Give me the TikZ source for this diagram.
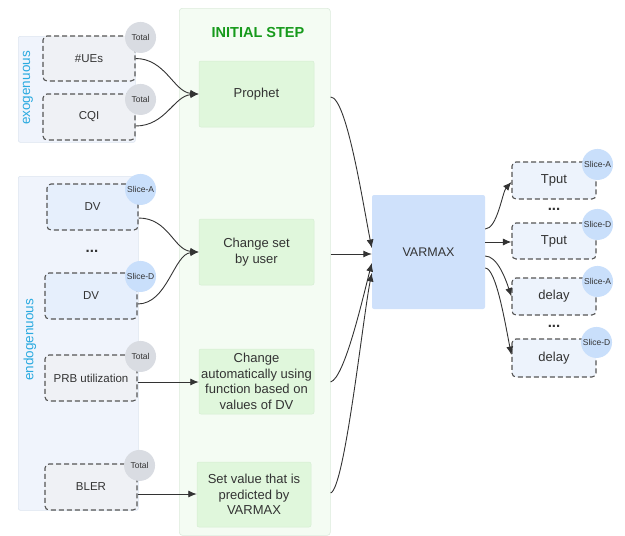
\documentclass[tikz,border=0pt]{standalone}
\usepackage{fontspec}
\setmainfont{Liberation Sans}
\usetikzlibrary{calc,arrows.meta}
\definecolor{txt}{HTML}{333333}
\definecolor{grpfill}{HTML}{F0F4FC}
\definecolor{grpline}{HTML}{DDE5F0}
\definecolor{grayfill}{HTML}{EFF1F5}
\definecolor{bluefill}{HTML}{E6EFFC}
\definecolor{outfill}{HTML}{EDF3FC}
\definecolor{totalc}{HTML}{D9DCE2}
\definecolor{slicec}{HTML}{C9DFFB}
\definecolor{initfill}{HTML}{F4FCF3}
\definecolor{initline}{HTML}{DCEBDC}
\definecolor{greenbox}{HTML}{E0F7DC}
\definecolor{greenline}{HTML}{D6EDD3}
\definecolor{varmax}{HTML}{CFE1FB}
\definecolor{titlegreen}{HTML}{169A1B}
\definecolor{cyanlbl}{HTML}{2AAAE0}
\definecolor{dashc}{HTML}{555555}
\definecolor{arrowc}{HTML}{333333}
\tikzset{
  grp/.style={draw=grpline, fill=grpfill, rounded corners=2pt, line width=0.6pt},
  var/.style={draw=dashc, dash pattern=on 5pt off 3pt, line width=1.1pt, rounded corners=4pt,
              text=txt, font=\fontsize{11.5}{13}\selectfont, align=center, inner sep=0pt},
  gvar/.style={var, fill=grayfill},
  bvar/.style={var, fill=bluefill},
  ovar/.style={var, fill=outfill, font=\fontsize{13}{15}\selectfont},
  badge/.style={circle, minimum size=31pt, inner sep=0pt, text=txt, font=\fontsize{8.5}{10}\selectfont},
  tot/.style={badge, fill=totalc},
  slc/.style={badge, fill=slicec},
  gbox/.style={draw=greenline, fill=greenbox, rounded corners=2pt, line width=0.5pt, text=txt,
               font=\fontsize{13}{15.5}\selectfont, align=center, inner sep=0pt},
  lbl/.style={text=cyanlbl, font=\fontsize{13.5}{15}\selectfont, rotate=90},
  dots/.style={text=txt, font=\bfseries\fontsize{15}{15}\selectfont},
  conn/.style={draw=arrowc, line width=0.9pt, -{Latex[length=8.5pt,width=7pt]}},
}
\begin{document}
\begin{tikzpicture}[x=1pt,y=-1pt]
\useasboundingbox (0,0) rectangle (625,536);
% containers
\node[grp, minimum width=117pt, minimum height=106pt, anchor=north west] (exo) at (18,36) {};
\node[grp, minimum width=120pt, minimum height=334pt, anchor=north west] (endo) at (18,176) {};
\node[draw=initline, fill=initfill, rounded corners=3pt, line width=0.6pt, minimum width=151pt, minimum height=527pt, anchor=north west] (init) at (179,8) {};
\node[lbl] (exol) at (28,88) {exogenuous};
\node[lbl] (endol) at (30,340) {endogenuous};
\node[text=titlegreen, font=\bfseries\fontsize{14.5}{16}\selectfont] (title) at (258,33) {INITIAL STEP};
% input variables
\node[gvar, minimum width=92pt, minimum height=45pt] (ues) at (89,58.5) {\#UEs};
\node[gvar, minimum width=92pt, minimum height=46pt] (cqi) at (89,117) {CQI};
\node[bvar, minimum width=91pt, minimum height=46pt] (dva) at (92.5,207) {DV};
\node[dots] (dots1) at (92,251) {...};
\node[bvar, minimum width=92pt, minimum height=46pt] (dvd) at (91,296) {DV};
\node[gvar, minimum width=92pt, minimum height=46pt] (prb) at (91,378) {PRB utilization};
\node[gvar, minimum width=92pt, minimum height=46pt] (bler) at (91,487) {BLER};
\node[tot] (t1) at ($(ues.north east)+(5,2)$) {Total};
\node[tot] (t2) at ($(cqi.north east)+(5,6)$) {Total};
\node[slc] (s1) at ($(dva.north east)+(2,6)$) {Slice-A};
\node[slc] (s2) at ($(dvd.north east)+(3,4)$) {Slice-D};
\node[tot] (t3) at ($(prb.north east)+(3,2)$) {Total};
\node[tot] (t4) at ($(bler.north east)+(2,2)$) {Total};
% initial step boxes
\node[gbox, minimum width=115pt, minimum height=66pt] (prophet) at (256.5,94) {Prophet};
\node[gbox, minimum width=115pt, minimum height=66pt] (user) at (256.5,252) {Change set\\by user};
\node[gbox, minimum width=115pt, minimum height=65pt] (auto) at (256.5,381.5) {Change\\automatically using\\function based on\\values of DV};
\node[gbox, minimum width=114pt, minimum height=65pt] (setv) at (254,494.5) {Set value that is\\predicted by\\VARMAX};
% VARMAX
\node[fill=varmax, rounded corners=2pt, minimum width=113pt, minimum height=114pt, text=txt, font=\fontsize{12.5}{15}\selectfont] (vm) at (428.5,252) {VARMAX};
% outputs
\node[ovar, minimum width=84pt, minimum height=37pt] (ta) at (554,180.5) {Tput};
\node[dots] (dots2) at (554,209) {...};
\node[ovar, minimum width=84pt, minimum height=36pt] (td) at (554,241) {Tput};
\node[ovar, minimum width=84pt, minimum height=37pt] (da) at (554,296.5) {delay};
\node[dots] (dots3) at (554,326) {...};
\node[ovar, minimum width=84pt, minimum height=38pt] (dd) at (554,358) {delay};
\node[slc] (s3) at ($(ta.north east)+(1,3)$) {Slice-A};
\node[slc] (s4) at ($(td.north east)+(1,2)$) {Slice-D};
\node[slc] (s5) at ($(da.north east)+(1,4)$) {Slice-A};
\node[slc] (s6) at ($(dd.north east)+(0,4)$) {Slice-D};
% connectors: inputs to initial step
\draw[conn] (ues.east) .. controls +(30,0) and +(-25,-2) .. (prophet.west);
\draw[conn] ($(cqi.east)+(0,9)$) .. controls +(30,0) and +(-25,2) .. (prophet.west);
\draw[conn] ($(dva.east)+(0,11)$) .. controls +(30,0) and +(-25,-2) .. (user.west);
\draw[conn] ($(dvd.east)+(0,8)$) .. controls +(30,0) and +(-25,2) .. (user.west);
\draw[conn] ($(prb.east)+(0,4)$) -- ($(auto.west)+(0,0.5)$);
\draw[conn] ($(bler.east)+(0,7)$) -- ($(setv.west)+(0,-0.5)$);
% initial step to VARMAX
\draw[conn] ($(prophet.east -| init.east)+(0,3)$) .. controls +(16,0) and +(-9,-45) .. ($(vm.west)+(0,-4)$);
\draw[conn] ($(user.east -| init.east)+(0,2)$) -- ($(vm.west)+(0,2)$);
\draw[conn] ($(auto.east -| init.east)+(0,0.5)$) .. controls +(14,-4) and +(-9,35) .. ($(vm.west)+(0,11)$);
\draw[conn] ($(setv.east -| init.east)+(0,-1.5)$) .. controls +(14,-4) and +(-9,45) .. ($(vm.west)+(0,21)$);
% VARMAX to outputs
\draw[conn] ($(vm.east)+(0,-23)$) .. controls +(12,0) and +(-9,10) .. ($(ta.west)+(0,1.5)$);
\draw[conn] ($(vm.east)+(0,-10)$) -- ($(td.west)+(0,1)$);
\draw[conn] ($(vm.east)+(0,4)$) .. controls +(12,0) and +(-6,-18) .. (da.west);
\draw[conn] ($(vm.east)+(0,16)$) .. controls +(11,0) and +(-6,-30) .. ($(dd.west)+(0,-3)$);
\end{tikzpicture}
\end{document}
